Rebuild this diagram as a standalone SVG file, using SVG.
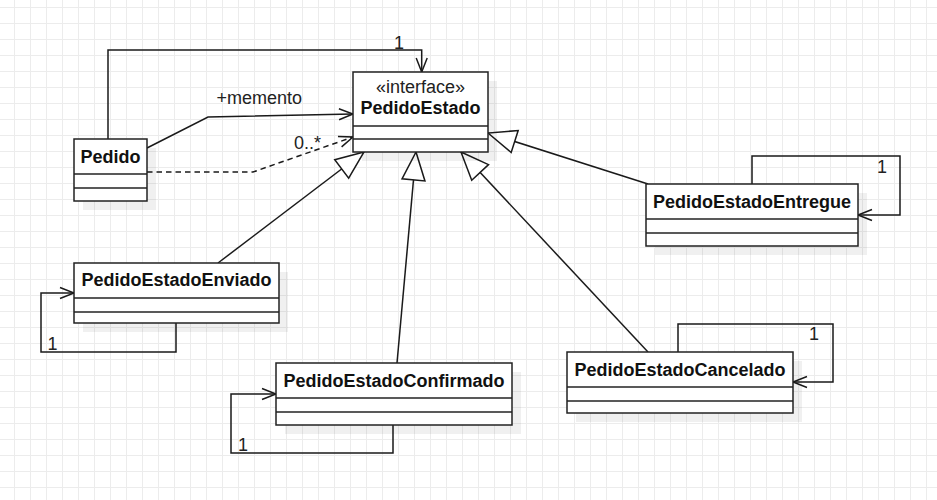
<svg xmlns="http://www.w3.org/2000/svg" width="937" height="500" viewBox="0 0 937 500">
<defs>
<pattern id="grid" width="16" height="16" patternUnits="userSpaceOnUse" x="14" y="7">
<rect width="16" height="1" fill="#ececec"/>
<rect width="1" height="16" fill="#ececec"/>
</pattern>
<marker id="open" viewBox="-16 -8 18 16" markerWidth="18" markerHeight="16" refX="0" refY="0" orient="auto" markerUnits="userSpaceOnUse">
<path d="M-14,-5.5 L0,0 L-14,5.5" fill="none" stroke="#1a1a1a" stroke-width="1.5"/>
</marker>
<marker id="tri" viewBox="-31 -14 34 28" markerWidth="34" markerHeight="28" refX="0" refY="0" orient="auto" markerUnits="userSpaceOnUse">
<path d="M0,0 L-28,-11.5 L-28,11.5 Z" fill="#ffffff" stroke="#1a1a1a" stroke-width="1.5"/>
</marker>
</defs>
<style>
.box{fill:#ffffff;stroke:#222;stroke-width:1.5}
.shadow{fill:#000;opacity:0.06}
.sep{stroke:#222;stroke-width:1.5}
.name{font-family:"Liberation Sans",Arial,sans-serif;font-size:18px;font-weight:bold;fill:#111;text-anchor:middle}
.lbl{font-family:"Liberation Sans",Arial,sans-serif;font-size:18px;fill:#222}
.edge{fill:none;stroke:#1a1a1a;stroke-width:1.5}
.dash{stroke-dasharray:5.5 4}
</style>
<rect width="937" height="500" fill="#ffffff"/>
<rect width="937" height="500" fill="url(#grid)"/>

<g id="connectors">
<path class="edge" d="M108,139 V50 H421.7 V72" marker-end="url(#open)"/>
<path class="edge" d="M147,148 L208,117 L353,114" marker-end="url(#open)"/>
<path class="edge dash" d="M147,172 L253,172 L353,137" marker-end="url(#open)"/>
<path class="edge" d="M218,263 L364,152" marker-end="url(#tri)"/>
<path class="edge" d="M397,363 L416,152" marker-end="url(#tri)"/>
<path class="edge" d="M648,352 L461,152" marker-end="url(#tri)"/>
<path class="edge" d="M648,184 L488,133" marker-end="url(#tri)"/>
<path class="edge" d="M752,184 V156 H900 V215 H858" marker-end="url(#open)"/>
<path class="edge" d="M176,323 V352 H41 V293 H74" marker-end="url(#open)"/>
<path class="edge" d="M393,425 V453 H231 V394 H276" marker-end="url(#open)"/>
<path class="edge" d="M678,352 V324 H833 V382 H793" marker-end="url(#open)"/>
<text class="lbl" x="399" y="48.5" text-anchor="middle">1</text>
<text class="lbl" x="216.5" y="104">+memento</text>
<text class="lbl" x="294" y="149">0..*</text>
<text class="lbl" x="882" y="172.5" text-anchor="middle">1</text>
<text class="lbl" x="52.5" y="350" text-anchor="middle">1</text>
<text class="lbl" x="243" y="450.5" text-anchor="middle">1</text>
<text class="lbl" x="814" y="339.5" text-anchor="middle">1</text>
</g>

<g id="PedidoEstado">
<rect class="shadow" x="362" y="81" width="135" height="80"/>
<rect class="box" x="353" y="72" width="135" height="80"/>
<line class="sep" x1="353" y1="126" x2="488" y2="126"/>
<line class="sep" x1="353" y1="139" x2="488" y2="139"/>
<text class="lbl" x="420.5" y="92.5" text-anchor="middle">«interface»</text>
<text class="name" x="420.5" y="113.5">PedidoEstado</text>
</g>

<g id="Pedido">
<rect class="shadow" x="83" y="148" width="73" height="62"/>
<rect class="box" x="74" y="139" width="73" height="62"/>
<line class="sep" x1="74" y1="174" x2="147" y2="174"/>
<line class="sep" x1="74" y1="188" x2="147" y2="188"/>
<text class="name" x="110.5" y="162.5">Pedido</text>
</g>

<g id="PedidoEstadoEntregue">
<rect class="shadow" x="655" y="193" width="212" height="62"/>
<rect class="box" x="646" y="184" width="212" height="62"/>
<line class="sep" x1="646" y1="219" x2="858" y2="219"/>
<line class="sep" x1="646" y1="233" x2="858" y2="233"/>
<text class="name" x="752" y="207.5">PedidoEstadoEntregue</text>
</g>

<g id="PedidoEstadoEnviado">
<rect class="shadow" x="83" y="272" width="205" height="60"/>
<rect class="box" x="74" y="263" width="205" height="60"/>
<line class="sep" x1="74" y1="298" x2="279" y2="298"/>
<line class="sep" x1="74" y1="312" x2="279" y2="312"/>
<text class="name" x="176.5" y="286">PedidoEstadoEnviado</text>
</g>

<g id="PedidoEstadoConfirmado">
<rect class="shadow" x="285" y="372" width="236" height="62"/>
<rect class="box" x="276" y="363" width="236" height="62"/>
<line class="sep" x1="276" y1="398" x2="512" y2="398"/>
<line class="sep" x1="276" y1="412" x2="512" y2="412"/>
<text class="name" x="394" y="386.5">PedidoEstadoConfirmado</text>
</g>

<g id="PedidoEstadoCancelado">
<rect class="shadow" x="576" y="361" width="226" height="61"/>
<rect class="box" x="567" y="352" width="226" height="61"/>
<line class="sep" x1="567" y1="387" x2="793" y2="387"/>
<line class="sep" x1="567" y1="401" x2="793" y2="401"/>
<text class="name" x="680" y="375.5">PedidoEstadoCancelado</text>
</g>
</svg>
